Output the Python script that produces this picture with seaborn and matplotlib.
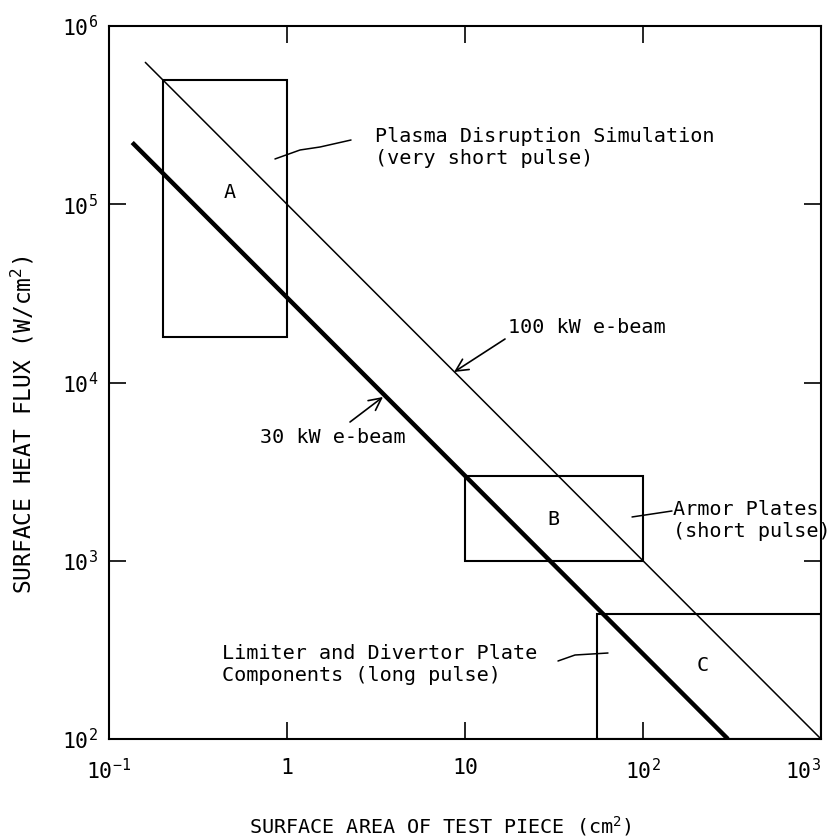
import numpy as np
import pandas as pd
import matplotlib
matplotlib.use("Agg")
import matplotlib.pyplot as plt
from matplotlib.patches import Rectangle
import seaborn as sns

# e-beam power limits: surface heat flux = beam power / area
area_100kw = [0.16, 1000.0]
flux_100kw = [6.25e5, 100.0]
area_30kw = [0.135, 300.0]
flux_30kw = [2.22e5, 100.0]

# operating regions (cm^2, W/cm^2)
region_names = ["A", "B", "C"]
region_area_lo = [0.2, 10.0, 55.0]
region_area_hi = [1.0, 100.0, 1000.0]
region_flux_lo = [1.8e4, 1.0e3, 100.0]
region_flux_hi = [5.0e5, 3.0e3, 500.0]

x_ticks = [0.1, 1, 10, 100, 1000]
x_tick_labels = ["$10^{-1}$", "1", "10", "$10^{2}$", "$10^{3}$"]
y_ticks = [1e2, 1e3, 1e4, 1e5, 1e6]
y_tick_labels = ["$10^{2}$", "$10^{3}$", "$10^{4}$", "$10^{5}$", "$10^{6}$"]

sns.set_theme(style="ticks")
plt.rcParams["font.family"] = ["DejaVu Sans Mono", "DejaVu Sans"]
plt.rcParams["mathtext.fontset"] = "custom"
plt.rcParams["mathtext.rm"] = "DejaVu Sans Mono"
plt.rcParams["mathtext.it"] = "DejaVu Sans Mono"
plt.rcParams["mathtext.default"] = "rm"
plt.rcParams["text.color"] = "black"
plt.rcParams["axes.labelcolor"] = "black"

FS = 14.5
fig = plt.figure(figsize=(8.36, 8.39), dpi=100)
ax = fig.add_axes([109 / 836, 1 - 739 / 839, 712 / 836, 713 / 839])

beams = pd.DataFrame({
    "area": area_100kw + area_30kw,
    "flux": flux_100kw + flux_30kw,
    "beam": ["100 kW"] * 2 + ["30 kW"] * 2,
})
sns.lineplot(data=beams[beams.beam == "100 kW"], x="area", y="flux",
             color="black", linewidth=1.1, ax=ax, legend=False)
sns.lineplot(data=beams[beams.beam == "30 kW"], x="area", y="flux",
             color="black", linewidth=3.2, ax=ax, legend=False,
             solid_capstyle="butt")

ax.set_xscale("log")
ax.set_yscale("log")
ax.set_xlim(0.1, 1000)
ax.set_ylim(100, 1e6)

for lo_x, hi_x, lo_y, hi_y in zip(region_area_lo, region_area_hi,
                                  region_flux_lo, region_flux_hi):
    ax.add_patch(Rectangle((lo_x, lo_y), hi_x - lo_x, hi_y - lo_y,
                           fill=False, edgecolor="black", linewidth=1.5,
                           zorder=3))

# region letters
letter_pos = {"A": (0.1699, 0.7658), "B": (0.6236, 0.3072), "C": (0.8343, 0.1024)}
for name in region_names:
    px, py = letter_pos[name]
    ax.text(px, py, name, transform=ax.transAxes, ha="center", va="center",
            fontsize=FS)

# annotations
ax.text(0.3736, 0.830, "Plasma Disruption Simulation\n(very short pulse)",
        transform=ax.transAxes, ha="left", va="center", fontsize=FS)
ax.plot([0.2331, 0.2683, 0.2964, 0.3399], [0.8135, 0.8261, 0.8303, 0.8401],
        transform=ax.transAxes, color="black", linewidth=1.1)

ax.text(0.5604, 0.5778, "100 kW e-beam", transform=ax.transAxes,
        ha="left", va="center", fontsize=FS)
ax.annotate("", xy=(0.4846, 0.5147), xytext=(0.5562, 0.5610),
            xycoords="axes fraction", textcoords="axes fraction",
            arrowprops=dict(arrowstyle="->", color="black", lw=1.2,
                            mutation_scale=22, shrinkA=0, shrinkB=0))

ax.text(0.2121, 0.4222, "30 kW e-beam", transform=ax.transAxes,
        ha="left", va="center", fontsize=FS)
ax.annotate("", xy=(0.3848, 0.4797), xytext=(0.3385, 0.4446),
            xycoords="axes fraction", textcoords="axes fraction",
            arrowprops=dict(arrowstyle="->", color="black", lw=1.2,
                            mutation_scale=22, shrinkA=0, shrinkB=0))

ax.text(0.7921, 0.3065, "Armor Plates\n(short pulse)", transform=ax.transAxes,
        ha="left", va="center", fontsize=FS, clip_on=False)
ax.plot([0.7346, 0.7907], [0.3114, 0.3198], transform=ax.transAxes,
        color="black", linewidth=1.1)

ax.text(0.1587, 0.1045, "Limiter and Divertor Plate\nComponents (long pulse)",
        transform=ax.transAxes, ha="left", va="center", fontsize=FS)
ax.plot([0.6306, 0.6545, 0.7008], [0.1094, 0.1178, 0.1206],
        transform=ax.transAxes, color="black", linewidth=1.1)

# axes styling
ax.set_xticks(x_ticks)
ax.set_xticklabels(x_tick_labels)
ax.set_yticks(y_ticks)
ax.set_yticklabels(y_tick_labels)
ax.minorticks_off()
ax.tick_params(axis="both", which="major", direction="in", length=12,
               width=1.2, top=True, right=True, labelsize=15.5, color="black",
               labelcolor="black")
ax.tick_params(axis="x", pad=14)
ax.tick_params(axis="y", pad=8)
xlabels = ax.get_xticklabels()
xlabels[-1].set_horizontalalignment("right")
xlabels[-1].set_x(1000)
for side in ["left", "right", "top", "bottom"]:
    ax.spines[side].set_visible(True)
    ax.spines[side].set_linewidth(1.5)
    ax.spines[side].set_color("black")

ax.set_xlabel("SURFACE AREA OF TEST PIECE (cm$^{2}$)", fontsize=FS)
ax.set_ylabel("SURFACE HEAT FLUX (W/cm$^{2}$)", fontsize=16.5)
ax.xaxis.set_label_coords(0.4649, -0.122)
ax.xaxis.label.set_va("center")
ax.yaxis.set_label_coords(-0.1208, 0.4404)
ax.yaxis.label.set_va("center")

fig.savefig("out.png", dpi=100, facecolor="white")
